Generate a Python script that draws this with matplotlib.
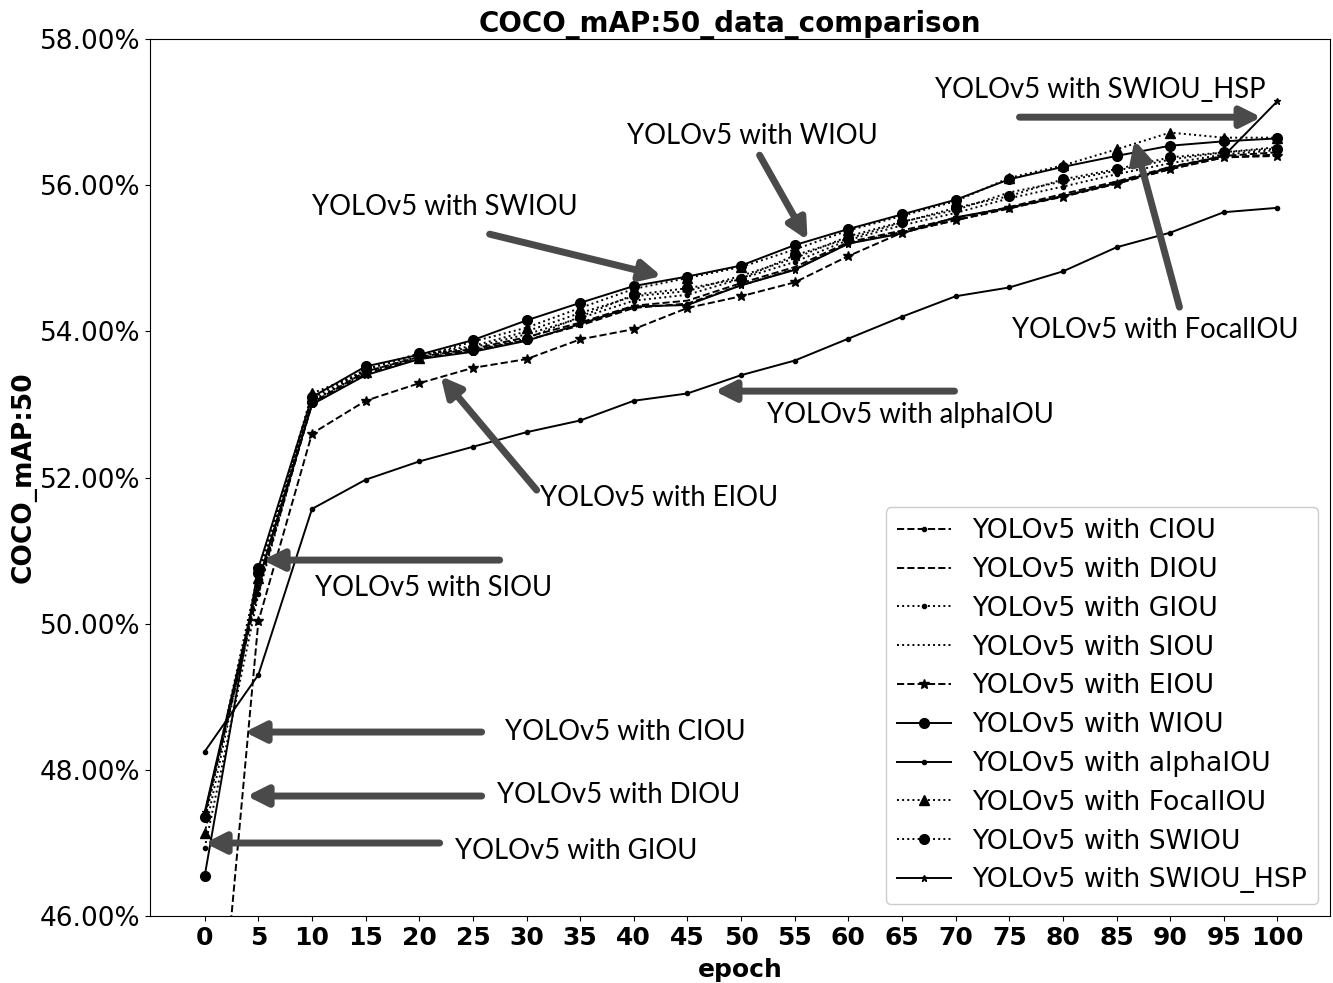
import matplotlib
matplotlib.use("Agg")
import matplotlib.pyplot as plt
from matplotlib.ticker import FuncFormatter

epochs = list(range(0, 101, 5))

ciou = [47.40, 50.50, 53.00, 53.42, 53.63, 53.74, 53.88, 54.08, 54.32, 54.38, 54.63, 54.85, 55.20, 55.36, 55.52, 55.68, 55.85, 56.02, 56.22, 56.38, 56.42]
diou = [47.38, 50.45, 53.02, 53.45, 53.65, 53.76, 53.92, 54.12, 54.35, 54.42, 54.66, 54.88, 55.22, 55.38, 55.55, 55.70, 55.88, 56.05, 56.25, 56.40, 56.45]
giou = [46.93, 50.40, 53.05, 53.44, 53.66, 53.78, 53.96, 54.18, 54.42, 54.50, 54.72, 54.95, 55.25, 55.45, 55.62, 55.82, 55.98, 56.15, 56.30, 56.42, 56.48]
siou = [47.30, 50.55, 53.08, 53.48, 53.68, 53.80, 54.00, 54.25, 54.48, 54.55, 54.76, 55.00, 55.30, 55.50, 55.66, 55.90, 56.05, 56.20, 56.35, 56.45, 56.52]
eiou = [42.00, 50.03, 52.60, 53.05, 53.29, 53.50, 53.62, 53.89, 54.03, 54.32, 54.48, 54.67, 55.03, 55.35, 55.52, 55.69, 55.84, 56.02, 56.22, 56.38, 56.40]
wiou = [46.55, 50.76, 53.10, 53.52, 53.68, 53.88, 54.15, 54.39, 54.62, 54.75, 54.90, 55.18, 55.40, 55.60, 55.80, 56.08, 56.25, 56.40, 56.54, 56.60, 56.64]
alphaiou = [48.25, 49.30, 51.57, 51.97, 52.22, 52.42, 52.62, 52.78, 53.05, 53.15, 53.40, 53.60, 53.90, 54.20, 54.48, 54.60, 54.82, 55.15, 55.35, 55.63, 55.69]
focaliou = [47.13, 50.62, 53.15, 53.45, 53.64, 53.86, 54.05, 54.32, 54.58, 54.73, 54.88, 55.12, 55.38, 55.58, 55.78, 56.10, 56.27, 56.49, 56.72, 56.65, 56.65]
swiou = [47.35, 50.70, 53.03, 53.48, 53.70, 53.74, 53.90, 54.20, 54.50, 54.59, 54.72, 55.04, 55.27, 55.49, 55.69, 55.85, 56.08, 56.22, 56.38, 56.45, 56.50]
swiou_hsp = [47.42, 50.58, 53.00, 53.40, 53.62, 53.72, 53.87, 54.10, 54.34, 54.36, 54.63, 54.84, 55.20, 55.34, 55.56, 55.69, 55.85, 56.03, 56.24, 56.40, 57.15]

labels = ["YOLOv5 with CIOU", "YOLOv5 with DIOU", "YOLOv5 with GIOU", "YOLOv5 with SIOU",
          "YOLOv5 with EIOU", "YOLOv5 with WIOU", "YOLOv5 with alphaIOU", "YOLOv5 with FocalIOU",
          "YOLOv5 with SWIOU", "YOLOv5 with SWIOU_HSP"]
series = [ciou, diou, giou, siou, eiou, wiou, alphaiou, focaliou, swiou, swiou_hsp]
styles = [("--", "."), ("--", None), (":", "."), (":", None), ("--", "*"),
          ("-", "o"), ("-", "."), (":", "^"), (":", "o"), ("-", "*")]
msizes = [6, 0, 6, 0, 7, 7, 6, 7, 7, 5]

# annotation layout: (text, text pixel left, text pixel center y, arrow tail px, arrow head px)
annots = [
    ("YOLOv5 with SWIOU_HSP", 935, 90, (1020, 117), (1262, 117)),
    ("YOLOv5 with WIOU", 627, 136, (760, 155), (808, 240)),
    ("YOLOv5 with SWIOU", 312, 207, (490, 234), (662, 276)),
    ("YOLOv5 with FocalIOU", 1012, 330, (1180, 307), (1135, 140)),
    ("YOLOv5 with alphaIOU", 767, 415, (955, 391), (715, 391)),
    ("YOLOv5 with EIOU", 540, 498, (537, 490), (441, 376)),
    ("YOLOv5 with SIOU", 315, 588, (500, 560), (263, 560)),
    ("YOLOv5 with CIOU", 505, 732, (482, 732), (245, 732)),
    ("YOLOv5 with DIOU", 497, 795, (482, 796), (247, 796)),
    ("YOLOv5 with GIOU", 455, 851, (440, 843), (205, 843)),
]

W, H = 1333, 983
fig = plt.figure(figsize=(W / 100, H / 100), dpi=100)
ax = fig.add_axes([150 / W, 1 - 916 / H, (1330 - 150) / W, (916 - 39) / H])

for lab, ys, (ls, mk), ms in zip(labels, series, styles, msizes):
    ax.plot(epochs, ys, color="black", linestyle=ls, marker=mk, markersize=ms,
            linewidth=1.4, label=lab)

ax.set_ylim(46, 58)
ax.set_xlim(-5.1, 104.9)
ax.set_yticks(range(46, 59, 2))
ax.yaxis.set_major_formatter(FuncFormatter(lambda v, p: f"{v:.2f}%"))
ax.set_xticks(epochs)
for t in ax.get_xticklabels():
    t.set_fontweight("bold")
ax.tick_params(axis="y", labelsize=19)
ax.tick_params(axis="x", labelsize=18)
ax.set_title("COCO_mAP:50_data_comparison", fontsize=20, fontweight="bold", pad=3, x=0.491)
ax.set_xlabel("epoch", fontsize=18, fontweight="bold", labelpad=6)
ax.set_ylabel("COCO_mAP:50", fontsize=19, fontweight="bold", labelpad=2.5)

leg = ax.legend(loc="lower right", fontsize=19.2, labelspacing=0.48, handlelength=2.05,
                handletextpad=0.8, borderaxespad=0.45, framealpha=1)

def px2data(px, py):
    return ((px - 205) / 10.73, 46 + (916 - py) / 73.1)

for txt, tx, ty, tail, head in annots:
    ax.annotate("", xy=px2data(*head), xytext=px2data(*tail),
                arrowprops=dict(arrowstyle="-|>,head_length=1.2,head_width=0.6",
                                color="#4a4a4a", lw=5, shrinkA=0, shrinkB=0),
                annotation_clip=False)
    ax.text(*px2data(tx, ty), txt, fontsize=19.8, family="Lato", va="center", ha="left")

fig.savefig("out.png", dpi=100)
